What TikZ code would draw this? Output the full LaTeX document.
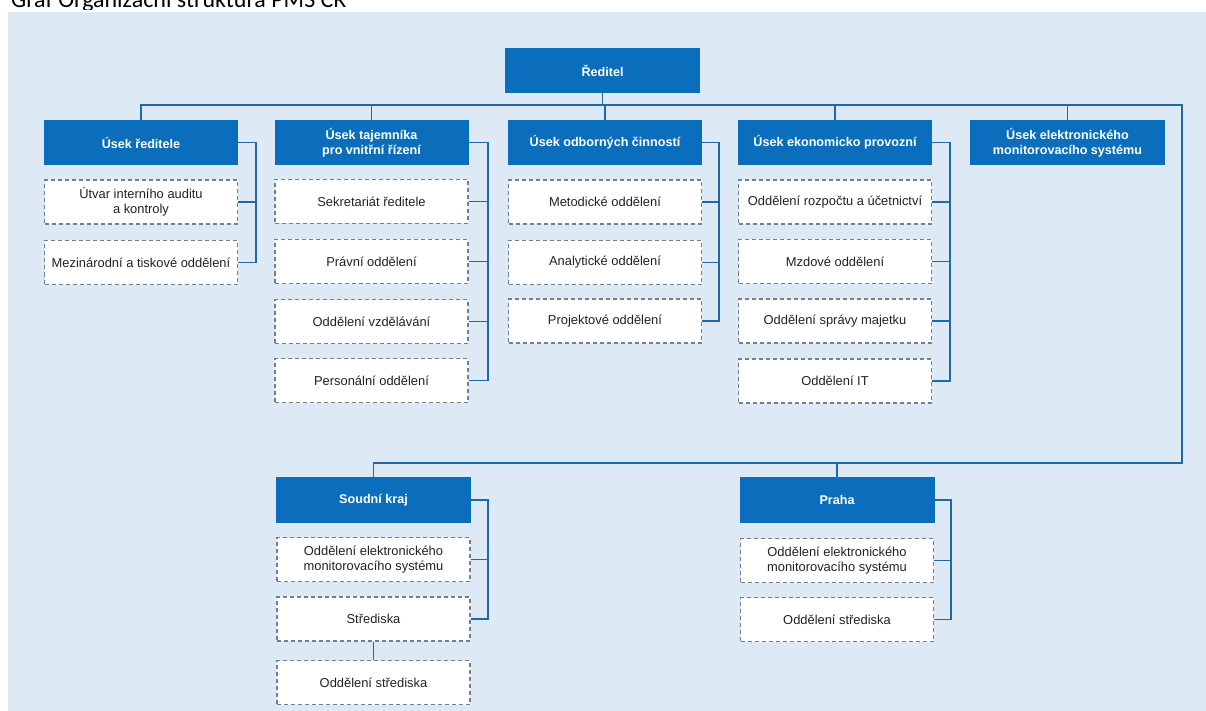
\documentclass[tikz,border=0pt]{standalone}
\usepackage{fontspec}
\setmainfont{Liberation Sans}
\newfontfamily\titlefont{Carlito}
\definecolor{panel}{HTML}{DDE9F5}
\definecolor{hdr}{HTML}{0A6EBD}
\definecolor{linec}{HTML}{2069A9}
\definecolor{dashc}{HTML}{6F8090}
\definecolor{txt}{HTML}{222222}
\tikzset{
  head/.style={rectangle, fill=hdr, text=white, font=\bfseries\fontsize{12.6}{15}\selectfont,
    minimum width=194pt, minimum height=45pt, align=center, inner sep=0pt},
  sub/.style={rectangle, draw=dashc, fill=white, line width=1.2pt, dash pattern=on 4pt off 3pt,
    text=txt, font=\fontsize{12.9}{15}\selectfont, minimum width=193pt, minimum height=44pt,
    align=center, inner sep=0pt},
  conn/.style={draw=linec, line width=1.9pt}
}
\begin{document}
\begin{tikzpicture}[x=1pt,y=-1pt]
\useasboundingbox (0,0) rectangle (1206,711);
\fill[panel] (8,12) rectangle (1206,711);
\begin{scope}
\clip (0,0) rectangle (1206,9.5);
\node[anchor=base west, inner sep=0pt, text=black, font=\titlefont\fontsize{24}{24}\selectfont] (title) at (11,8) {Graf Organizační struktura PMS ČR};
\end{scope}

% top
\node[head, minimum width=195pt] (r) at (602.5,70.5) {Ředitel};
\node[head] (h1) at (141,142.5) {Úsek ředitele};
\node[head] (h2) at (371.5,142.5) {Úsek tajemníka\\pro vnitřní řízení};
\node[head] (h3) at (605,142.5) {Úsek odborných činností};
\node[head] (h4) at (835,142.5) {Úsek ekonomicko provozní};
\node[head, minimum width=195pt] (h5) at (1067.5,142.5) {Úsek elektronického\\monitorovacího systému};

% column 1
\node[sub] (s11) at (141,202) {Útvar interního auditu\\a kontroly};
\node[sub] (s12) at (141,262.5) {Mezinárodní a tiskové oddělení};
% column 2
\node[sub] (s21) at (371.5,201.5) {Sekretariát ředitele};
\node[sub] (s22) at (371.5,261.5) {Právní oddělení};
\node[sub] (s23) at (371.5,321.5) {Oddělení vzdělávání};
\node[sub] (s24) at (371.5,380.5) {Personální oddělení};
% column 3
\node[sub] (s31) at (605,202) {Metodické oddělení};
\node[sub] (s32) at (605,262.5) {Analytické oddělení};
\node[sub] (s33) at (605,321) {Projektové oddělení};
% column 4
\node[sub] (s41) at (835,202) {Oddělení rozpočtu a účetnictví};
\node[sub] (s42) at (835,261.5) {Mzdové oddělení};
\node[sub] (s43) at (835,321) {Oddělení správy majetku};
\node[sub] (s44) at (835,381) {Oddělení IT};

% bottom
\node[head, minimum width=195pt, minimum height=46pt] (sk) at (373.5,500) {Soudní kraj};
\node[sub] (sk1) at (373.5,559.5) {Oddělení elektronického\\monitorovacího systému};
\node[sub] (sk2) at (373.5,619) {Střediska};
\node[sub] (sk3) at (373.5,682.5) {Oddělení střediska};
\node[head, minimum width=195pt, minimum height=46pt] (pr) at (837,500) {Praha};
\node[sub] (pr1) at (837,560.5) {Oddělení elektronického\\monitorovacího systému};
\node[sub] (pr2) at (837,619.5) {Oddělení střediska};

% bus coordinates
\coordinate (b) at (0,105);
\coordinate (bb) at (0,463);
\coordinate (rt) at (1182,105);
\coordinate (rb) at (1182,463);
\coordinate (k1) at (256,0);
\coordinate (k2) at (488,0);
\coordinate (k3) at (719,0);
\coordinate (k4) at (950,0);
\coordinate (k5) at (488,0);
\coordinate (k6) at (951,0);

% main connectors
\draw[conn] (r.south) -- (r.south |- b);
\draw[conn] (h1.north) -- (h1.north |- b) -- (rt) -- (rb) -- (sk.north |- bb) -- (sk.north);
\foreach \h in {h2,h3,h4,h5}{\draw[conn] (\h.north |- b) -- (\h.north);}
\draw[conn] (pr.north |- bb) -- (pr.north);

% brackets
\draw[conn] (h1.east) -- (h1.east -| k1) |- (s12.east);
\draw[conn] (s11.east) -- (s11.east -| k1);

\draw[conn] (h2.east) -- (h2.east -| k2) |- (s24.east);
\foreach \s in {s21,s22,s23}{\draw[conn] (\s.east) -- (\s.east -| k2);}

\draw[conn] (h3.east) -- (h3.east -| k3) |- (s33.east);
\foreach \s in {s31,s32}{\draw[conn] (\s.east) -- (\s.east -| k3);}

\draw[conn] (h4.east) -- (h4.east -| k4) |- (s44.east);
\foreach \s in {s41,s42,s43}{\draw[conn] (\s.east) -- (\s.east -| k4);}

\draw[conn] (sk.east) -- (sk.east -| k5) |- (sk2.east);
\draw[conn] (sk1.east) -- (sk1.east -| k5);
\draw[conn] (sk2.south) -- (sk3.north);

\draw[conn] (pr.east) -- (pr.east -| k6) |- (pr2.east);
\draw[conn] (pr1.east) -- (pr1.east -| k6);
\end{tikzpicture}
\end{document}
